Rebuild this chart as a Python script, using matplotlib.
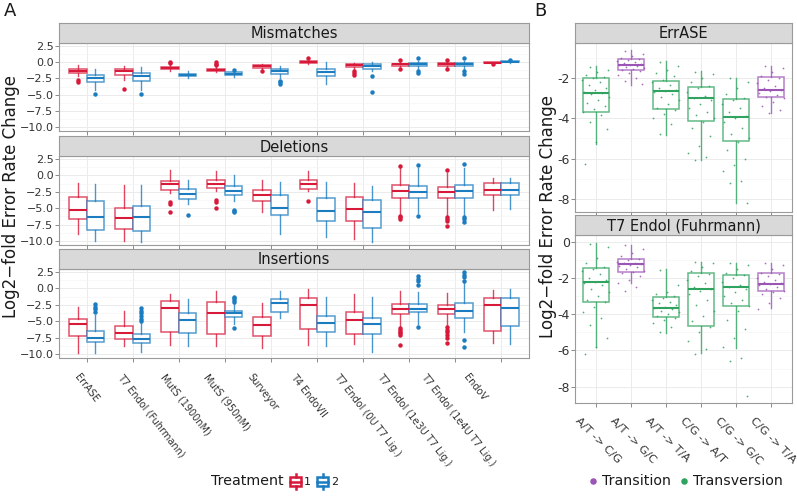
import matplotlib

matplotlib.use("Agg")

import matplotlib.pyplot as plt
from matplotlib.colors import to_rgba
from matplotlib.patches import Rectangle
from matplotlib.ticker import FixedLocator, FuncFormatter, MultipleLocator
from matplotlib.transforms import ScaledTranslation

W, H = 797, 498

RED = "#D7193A"
BLUE = "#1C7CC0"
PURPLE = "#9B55B5"
GREEN = "#2FA35F"
GRID = "#EBEBEB"
MINOR = "#F5F5F5"
BORDER = "#9A9A9A"
STRIP = "#D9D9D9"

plt.rcParams.update({"font.family": "DejaVu Sans", "text.color": "#1A1A1A"})

METHODS = ["ErrASE", "T7 Endol (Fuhrmann)", "MutS (1900nM)", "MutS (950nM)", "Surveyor",
           "T4 EndoVII", "T7 Endol (0U T7 Lig.)", "T7 Endol (1e3U T7 Lig.)",
           "T7 Endol (1e4U T7 Lig.)", "EndoV"]
FACETS = ["Mismatches", "Deletions", "Insertions"]

# per method: (whisker low, q1, median, q3, whisker high); treatment 1 / treatment 2
MIS_1 = [(-2.2, -1.7, -1.34, -1.03, -0.5), (-2.8, -1.9, -1.3, -1.0, -0.55), (-1.4, -1.1, -0.93, -0.8, -0.25),
         (-1.55, -1.4, -1.2, -1.0, -0.6), (-1.0, -0.9, -0.62, -0.45, -0.35), (-0.25, -0.15, 0.0, 0.2, 0.5),
         (-1.0, -0.8, -0.5, -0.3, -0.15), (-1.0, -0.55, -0.35, -0.2, 0.2), (-1.0, -0.55, -0.3, -0.15, 0.25),
         (-0.2, -0.1, -0.05, 0.0, 0.05)]
MIS_1_OUT = [[-2.8, -3.0], [-4.1], [0.1, -0.1], [0.0, -0.25, -0.45], [-1.4], [0.6],
             [-1.3, -1.6, -1.9], [0.3, -1.05], [0.3, -1.05], [-0.25]]
MIS_2 = [(-4.3, -3.0, -2.4, -1.9, -1.0), (-4.3, -2.95, -2.2, -1.6, -0.8), (-2.5, -2.15, -1.95, -1.75, -1.3),
         (-2.3, -2.0, -1.8, -1.55, -1.3), (-2.4, -1.8, -1.35, -1.05, -0.65), (-3.35, -2.15, -1.55, -1.0, 0.0),
         (-1.3, -1.0, -0.55, -0.35, 0.0), (-1.0, -0.65, -0.35, -0.1, 0.2), (-1.05, -0.65, -0.35, -0.05, 0.25),
         (-0.05, 0.0, 0.08, 0.12, 0.2)]
MIS_2_OUT = [[-4.9], [-4.9], [], [-1.15], [-2.9, -3.1, -3.3], [], [-2.1, -4.6],
             [0.6, -1.3, -1.7], [0.6, -1.3, -1.75], [0.35]]

DEL_1 = [(-8.9, -6.7, -5.25, -3.3, -1.2), (-10.0, -8.1, -6.5, -4.9, -1.5), (-2.65, -2.15, -1.35, -0.8, 0.9),
         (-2.4, -1.9, -1.3, -0.7, 0.65), (-5.55, -3.85, -3.05, -2.15, -0.7), (-2.4, -2.0, -1.3, -0.75, 0.6),
         (-9.75, -7.0, -5.05, -3.3, -1.2), (-6.0, -3.4, -2.4, -1.5, 1.2), (-6.2, -3.5, -2.6, -1.8, 0.4),
         (-5.3, -3.0, -2.15, -1.2, -0.45)]
DEL_1_OUT = [[], [], [-4.1, -4.3, -5.5], [-3.7, -4.0, -4.9], [], [-3.9], [],
             [1.45, -6.2, -6.4, -6.7], [0.8, -6.4, -6.6, -7.0, -7.65], []]
DEL_2 = [(-10.0, -8.3, -6.4, -3.9, -1.3), (-10.1, -8.5, -6.3, -4.6, -1.5), (-4.4, -3.6, -2.85, -2.1, -0.75),
         (-3.9, -3.0, -2.4, -1.65, 0.0), (-9.0, -6.0, -4.9, -3.05, -1.0), (-9.4, -6.9, -5.35, -3.4, -1.0),
         (-10.15, -8.0, -5.6, -3.7, -1.65), (-5.7, -3.4, -2.5, -1.55, 1.2), (-6.2, -3.4, -2.3, -1.4, 1.2),
         (-5.05, -3.05, -2.25, -1.1, -0.45)]
DEL_2_OUT = [[], [], [-6.0], [-5.25, -5.4, -5.5], [], [], [], [1.55, -6.2], [1.8, -6.4, -6.7, -7.1], []]

INS_1 = [(-9.9, -7.25, -5.35, -4.7, -2.9), (-8.7, -7.7, -6.8, -5.75, -3.45), (-8.55, -6.65, -2.95, -1.85, -0.8),
         (-8.8, -6.95, -3.7, -2.0, -0.35), (-9.05, -7.25, -5.6, -4.4, -2.25), (-8.6, -6.25, -2.6, -1.4, -0.1),
         (-8.45, -7.0, -4.85, -3.6, -0.9), (-5.7, -3.85, -3.15, -2.3, -0.35), (-5.6, -3.9, -3.1, -2.5, -0.7),
         (-8.3, -6.55, -2.5, -1.4, -0.2)]
INS_1_OUT = [[], [], [], [], [], [], [], [-6.0, -6.3, -6.6, -6.8, -7.05, -8.6],
             [-5.9, -6.3, -6.7, -7.1, -7.6, -8.3], []]
INS_2 = [(-9.9, -8.2, -7.6, -6.45, -4.05), (-9.75, -8.35, -7.7, -6.9, -5.1), (-8.8, -6.8, -4.85, -3.7, -1.65),
         (-5.35, -4.33, -3.8, -3.4, -2.25), (-4.5, -3.55, -2.15, -1.55, -0.45), (-8.8, -6.65, -5.25, -4.2, -1.25),
         (-9.75, -7.0, -5.35, -4.5, -1.25), (-5.35, -3.65, -3.15, -2.3, -0.55), (-6.65, -4.5, -3.45, -2.25, 0.8),
         (-8.45, -5.7, -2.95, -1.4, -0.1)]
INS_2_OUT = [[-2.4, -2.8, -3.2, -3.6], [-2.95, -3.4, -3.8, -4.2, -4.6, -5.0], [], [-1.25, -1.5, -1.75, -2.0, -6.0],
             [], [], [], [1.85, 1.5, 1.2, 0.55, -5.9], [2.45, 2.1, 1.7, 1.2, -7.85, -8.95], []]

# panel B
SUBST = ["A/T -> C/G", "A/T -> G/C", "A/T -> T/A", "C/G -> A/T", "C/G -> G/C", "C/G -> T/A"]
SUBST_KIND = ["Transversion", "Transition", "Transversion", "Transversion", "Transversion", "Transition"]
B_FACETS = ["ErrASE", "T7 Endol (Fuhrmann)"]

ERRASE_BOX = [(-5.3, -3.7, -2.77, -2.03, -1.4), (-2.36, -1.62, -1.38, -1.08, -0.64),
              (-4.82, -3.56, -2.64, -2.13, -1.16), (-6.08, -4.16, -3.0, -2.43, -1.67),
              (-8.18, -5.15, -3.92, -3.07, -2.0), (-3.75, -2.97, -2.6, -1.95, -1.41)]
T7_BOX = [(-5.79, -3.31, -2.2, -1.47, -0.09), (-2.3, -1.65, -1.25, -0.97, -0.18),
          (-5.02, -4.14, -3.64, -3.07, -1.53), (-6.16, -4.65, -2.61, -1.75, -1.1),
          (-5.85, -3.53, -2.48, -1.84, -1.19), (-3.68, -2.72, -2.35, -1.75, -1.19)]

ERRASE_PTS = [
    [-1.45, -1.6, -1.7, -1.85, -1.95, -2.0, -2.1, -2.2, -2.35, -2.5, -2.6, -2.7, -2.75, -2.8, -2.95,
     -3.1, -3.25, -3.4, -3.55, -3.7, -3.85, -4.2, -4.55, -5.2, -6.25],
    [-0.65, -0.8, -0.9, -1.0, -1.05, -1.1, -1.15, -1.2, -1.25, -1.3, -1.35, -1.38, -1.42, -1.47, -1.5,
     -1.55, -1.6, -1.65, -1.75, -1.85, -2.0, -2.15, -2.3],
    [-1.2, -1.4, -1.6, -1.75, -1.9, -2.1, -2.2, -2.35, -2.5, -2.6, -2.65, -2.7, -2.8, -2.95, -3.1,
     -3.3, -3.5, -3.6, -3.8, -4.0, -4.3, -4.8],
    [-1.7, -1.8, -2.0, -2.2, -2.4, -2.5, -2.7, -2.9, -3.0, -3.1, -3.3, -3.5, -3.7, -3.85, -4.0,
     -4.2, -4.5, -4.9, -5.4, -5.7, -5.9, -6.05],
    [-2.0, -2.2, -2.5, -2.8, -3.0, -3.1, -3.3, -3.5, -3.7, -3.9, -4.0, -4.2, -4.5, -4.8, -5.0,
     -5.2, -5.6, -6.0, -6.3, -6.6, -7.1, -7.2, -8.2],
    [-1.4, -1.5, -1.7, -1.9, -2.0, -2.1, -2.25, -2.4, -2.5, -2.6, -2.65, -2.75, -2.85, -2.95, -3.0,
     -3.2, -3.4, -3.6, -3.75],
]
T7_PTS = [
    [-0.1, -0.3, -0.9, -1.2, -1.4, -1.5, -1.6, -1.8, -2.0, -2.1, -2.2, -2.3, -2.4, -2.6, -2.8,
     -3.0, -3.2, -3.3, -3.6, -3.9, -4.2, -4.6, -5.3, -5.8, -6.2],
    [-0.2, -0.4, -0.6, -0.8, -0.95, -1.0, -1.1, -1.15, -1.2, -1.25, -1.3, -1.35, -1.4, -1.5, -1.6,
     -1.65, -1.75, -1.9, -2.1, -2.3, -2.5, -2.7],
    [-1.55, -2.4, -2.8, -2.9, -3.0, -3.1, -3.2, -3.3, -3.4, -3.5, -3.6, -3.65, -3.7, -3.8, -3.9,
     -4.0, -4.1, -4.2, -4.3, -4.5, -4.7, -5.0],
    [-1.1, -1.2, -1.4, -1.6, -1.8, -1.9, -2.1, -2.3, -2.5, -2.6, -2.7, -2.9, -3.2, -3.5, -3.8,
     -4.1, -4.4, -4.7, -5.0, -5.5, -5.9, -6.2],
    [-1.2, -1.3, -1.5, -1.7, -1.85, -2.0, -2.2, -2.4, -2.5, -2.6, -2.8, -3.0, -3.2, -3.4, -3.55,
     -3.8, -4.3, -4.8, -5.3, -5.8, -6.4, -6.6, -8.5],
    [-1.2, -1.3, -1.5, -1.7, -1.8, -1.9, -2.0, -2.1, -2.2, -2.3, -2.35, -2.4, -2.5, -2.6, -2.7,
     -2.75, -2.9, -3.1, -3.4, -3.7],
]


def px_box(left, top, width, height):
    return [left / W, 1 - (top + height) / H, width / W, height / H]


def to_stats(rows, outs):
    return [dict(whislo=r[0], q1=r[1], med=r[2], q3=r[3], whishi=r[4], fliers=o)
            for r, o in zip(rows, outs)]


def draw_boxes(ax, positions, stats, color, width, flier_size=3.2):
    ax.bxp(stats, positions=positions, widths=width, patch_artist=True, showcaps=False,
           boxprops=dict(facecolor="white", edgecolor=to_rgba(color, 0.75), linewidth=1.1),
           whiskerprops=dict(color=to_rgba(color, 0.8), linewidth=1.0),
           medianprops=dict(color=color, linewidth=1.5),
           flierprops=dict(marker="o", markerfacecolor=color, markeredgecolor="none",
                           markersize=flier_size))


def style_panel(ax):
    ax.set_facecolor("white")
    ax.set_axisbelow(True)
    for s in ax.spines.values():
        s.set_color(BORDER)
        s.set_linewidth(0.8)
    ax.grid(which="major", color=GRID, linewidth=0.7)
    ax.grid(which="minor", axis="y", color=MINOR, linewidth=0.5)
    ax.tick_params(which="major", length=3, width=0.6, color="#777777", pad=1, labelcolor="#333333")
    ax.tick_params(which="minor", length=0)


def add_strip(fig, ax, title, height=20):
    pos = ax.get_position()
    s = fig.add_axes([pos.x0, pos.y1, pos.width, height / H])
    s.set_facecolor(STRIP)
    s.set_xticks([])
    s.set_yticks([])
    for sp in s.spines.values():
        sp.set_color(BORDER)
        sp.set_linewidth(0.8)
    s.text(0.5, 0.45, title, ha="center", va="center", fontsize=10.5, color="#1A1A1A",
           transform=s.transAxes)


fig = plt.figure(figsize=(W / 100, H / 100), dpi=100)

# ---- panel A ----
panel_rows = [(MIS_1, MIS_1_OUT, MIS_2, MIS_2_OUT), (DEL_1, DEL_1_OUT, DEL_2, DEL_2_OUT),
              (INS_1, INS_1_OUT, INS_2, INS_2_OUT)]
a_tops = [(43, 88), (156, 89), (269, 89)]
xs = list(range(len(METHODS)))
a_axes = []
for (top, hgt), title, (r1, o1, r2, o2) in zip(a_tops, FACETS, panel_rows):
    ax = fig.add_axes(px_box(59, top, 470, hgt))
    style_panel(ax)
    draw_boxes(ax, [x - 0.19 for x in xs], to_stats(r1, o1), RED, 0.38)
    draw_boxes(ax, [x + 0.19 for x in xs], to_stats(r2, o2), BLUE, 0.38)
    ax.set_xlim(-0.6, len(METHODS) - 0.4)
    ax.set_ylim(-10.6, 2.96)
    ax.yaxis.set_major_locator(FixedLocator([-10, -7.5, -5, -2.5, 0, 2.5]))
    ax.yaxis.set_minor_locator(MultipleLocator(1.25))
    ax.yaxis.set_major_formatter(FuncFormatter(lambda v, p: f"{v:.1f}".replace("-", "\u2212")))
    ax.tick_params(axis="y", labelsize=8)
    ax.set_xticks(xs)
    ax.set_xticklabels([])
    add_strip(fig, ax, title)
    a_axes.append(ax)

ax = a_axes[-1]
ax.set_xticklabels(METHODS, rotation=-52, ha="left", va="top", rotation_mode="anchor", fontsize=7)
ax.tick_params(axis="x", pad=7)
for i, lab in enumerate(ax.get_xticklabels()):
    lab.set_transform(lab.get_transform() +
                      ScaledTranslation(-(6.6 + 2.78 * i) / 100, 0, fig.dpi_scale_trans))

# ---- panel B ----
b_data = [(ERRASE_BOX, ERRASE_PTS, (43, 169), (-8.65, -0.27), [-8, -6, -4, -2]),
          (T7_BOX, T7_PTS, (235, 168), (-8.9, 0.37), [-8, -6, -4, -2, 0])]
sx = list(range(len(SUBST)))
kind_color = {"Transition": PURPLE, "Transversion": GREEN}
b_axes = []
for title, (rows, pts, (top, hgt), ylim, yt) in zip(B_FACETS, b_data):
    ax = fig.add_axes(px_box(575, top, 217, hgt))
    style_panel(ax)
    for i, (row, vals, kind) in enumerate(zip(rows, pts, SUBST_KIND)):
        col = kind_color[kind]
        draw_boxes(ax, [i], to_stats([row], [[]]), col, 0.77)
        jit = [i + ((k * 0.618034 + 0.3) % 1 - 0.5) * 0.82 for k in range(len(vals))]
        ax.scatter(jit, vals, s=1.6, color=col, alpha=0.85, linewidths=0, zorder=4)
    ax.set_xlim(-0.6, len(SUBST) - 0.4)
    ax.set_ylim(*ylim)
    ax.yaxis.set_major_locator(FixedLocator(yt))
    ax.yaxis.set_minor_locator(MultipleLocator(1))
    ax.yaxis.set_major_formatter(FuncFormatter(lambda v, p: f"{v:.0f}"))
    ax.tick_params(axis="y", labelsize=9, pad=0.5)
    ax.set_xticks(sx)
    ax.set_xticklabels([])
    add_strip(fig, ax, title)
    b_axes.append(ax)

ax = b_axes[-1]
ax.set_xticklabels(SUBST, rotation=-45, ha="left", va="top", rotation_mode="anchor", fontsize=8.2)
ax.tick_params(axis="x", pad=6)
for lab in ax.get_xticklabels():
    lab.set_transform(lab.get_transform() + ScaledTranslation(-16 / 100, 0, fig.dpi_scale_trans))

# ---- labels ----
ylab = "Log2\u2212fold Error Rate Change"
fig.text(11 / W, 1 - 196 / H, ylab, rotation=90, ha="center", va="center", fontsize=12)
fig.text(548 / W, 1 - 217 / H, ylab, rotation=90, ha="center", va="center", fontsize=12)
fig.text(4 / W, 1 - 2 / H, "A", ha="left", va="top", fontsize=13)
fig.text(534 / W, 1 - 2 / H, "B", ha="left", va="top", fontsize=13)

# legend A
fig.text(211 / W, 1 - 481 / H, "Treatment", ha="left", va="center", fontsize=10.3)
lax = fig.add_axes(px_box(285, 468, 60, 26))
lax.set_xlim(285, 345)
lax.set_ylim(494, 468)
lax.axis("off")
for x0, col, lab in [(290, RED, "1"), (317, BLUE, "2")]:
    lax.add_patch(Rectangle((x0, 477), 11, 9, facecolor="white", edgecolor=col, linewidth=1.8))
    lax.plot([x0, x0 + 11], [481.5, 481.5], color=col, linewidth=1.8)
    lax.plot([x0 + 5.5, x0 + 5.5], [474, 477], color=col, linewidth=1.8)
    lax.plot([x0 + 5.5, x0 + 5.5], [486, 489], color=col, linewidth=1.8)
    lax.text(x0 + 14, 482, lab, ha="left", va="center", fontsize=8)

# legend B
bl = fig.add_axes(px_box(585, 468, 210, 26))
bl.set_xlim(585, 795)
bl.set_ylim(494, 468)
bl.axis("off")
for xd, kind in [(593, "Transition"), (684, "Transversion")]:
    bl.scatter([xd], [481], s=22, color=kind_color[kind], linewidths=0)
    bl.text(xd + 9, 481, kind, ha="left", va="center", fontsize=10.2)

fig.savefig("out.png", dpi=100)
